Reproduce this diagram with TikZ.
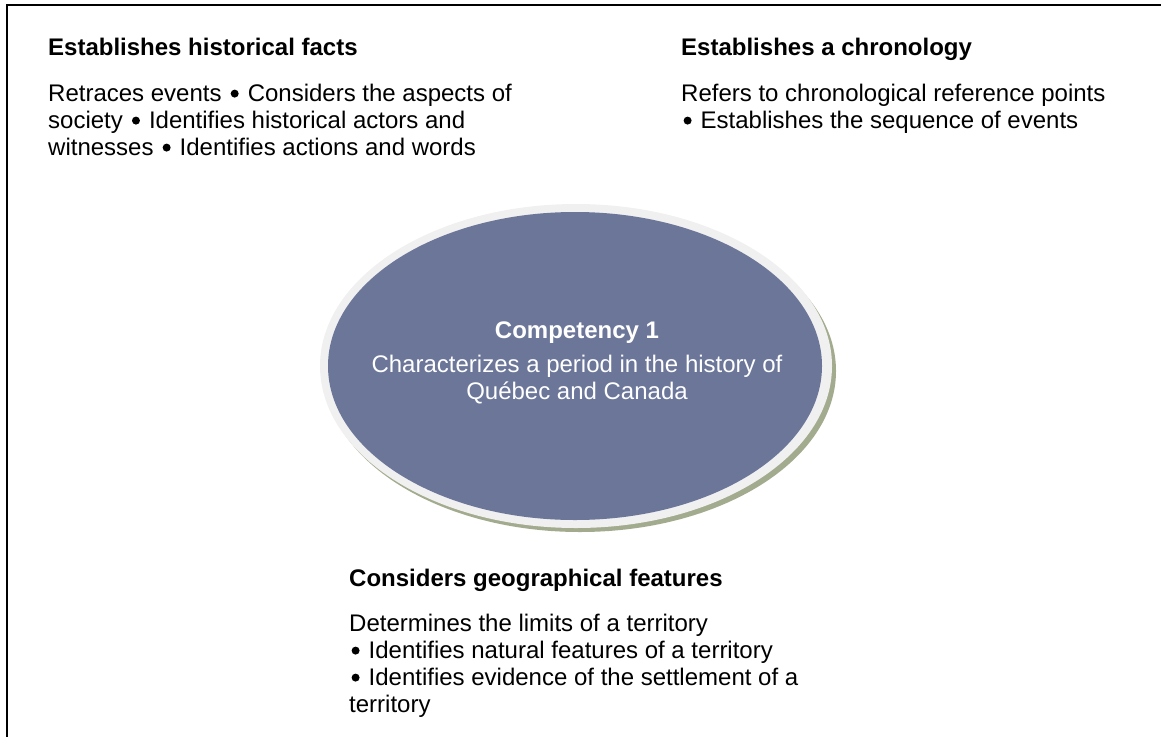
\documentclass[tikz,border=0pt]{standalone}
\usepackage{fontspec}
\setmainfont{Liberation Sans}
\usetikzlibrary{shapes.geometric}
\definecolor{ovalfill}{HTML}{6B7699}
\definecolor{ovalrim}{HTML}{F0F0F0}
\definecolor{ovalshadow}{HTML}{A2AB8D}
\newcommand\topstrut{\rule{0pt}{20pt}}
\newcommand\bul{\hspace{2.4pt}\tikz[baseline=0pt]\fill (0,7.6pt) circle (4pt);\hspace{2.4pt}}
\tikzset{
  txt/.style={anchor=north west, inner sep=0pt, align=left, font=\fontsize{24}{27}\selectfont},
  head/.style={txt, font=\fontsize{24}{27}\selectfont\bfseries},
  ctxt/.style={anchor=north, inner sep=0pt, align=center, text=white, font=\fontsize{24}{27}\selectfont},
  chead/.style={ctxt, font=\fontsize{24}{27}\selectfont\bfseries},
}
\begin{document}
\begin{tikzpicture}[x=1pt,y=-1pt]
\useasboundingbox (0,0) rectangle (1161,736);
\draw[line width=1.8pt] (7,760) -- (7,5) -- (1180,5);
% oval
\fill[ovalshadow] (580,371) ellipse [x radius=256, y radius=161];
\fill[ovalrim] (576,366) ellipse [x radius=256, y radius=162];
\node[ellipse, fill=ovalfill, inner sep=0pt, minimum width=494pt, minimum height=308pt] (comp) at (575,366) {};
\node[chead] (comptitle) at (577,318) {\topstrut Competency 1};
\node[ctxt] (compbody) at (577,352) {\topstrut Characterizes a period in the history of\\Québec and Canada};
% facts
\node[head] (factshead) at (48,35) {\topstrut Establishes historical facts};
\node[txt] (factsbody) at (48,81) {\topstrut Retraces events \bul{} Considers the aspects of\\society \bul{} Identifies historical actors and\\witnesses \bul{} Identifies actions and words};
% chronology
\node[head] (chronohead) at (681,35) {\topstrut Establishes a chronology};
\node[txt] (chronobody) at (681,81) {\topstrut Refers to chronological reference points\\\bul{} Establishes the sequence of events};
% geography
\node[head] (geohead) at (349,566) {\topstrut Considers geographical features};
\node[txt] (geobody) at (349,611) {\topstrut Determines the limits of a territory\\\bul{} Identifies natural features of a territory\\\bul{} Identifies evidence of the settlement of a\\territory};
\end{tikzpicture}
\end{document}
